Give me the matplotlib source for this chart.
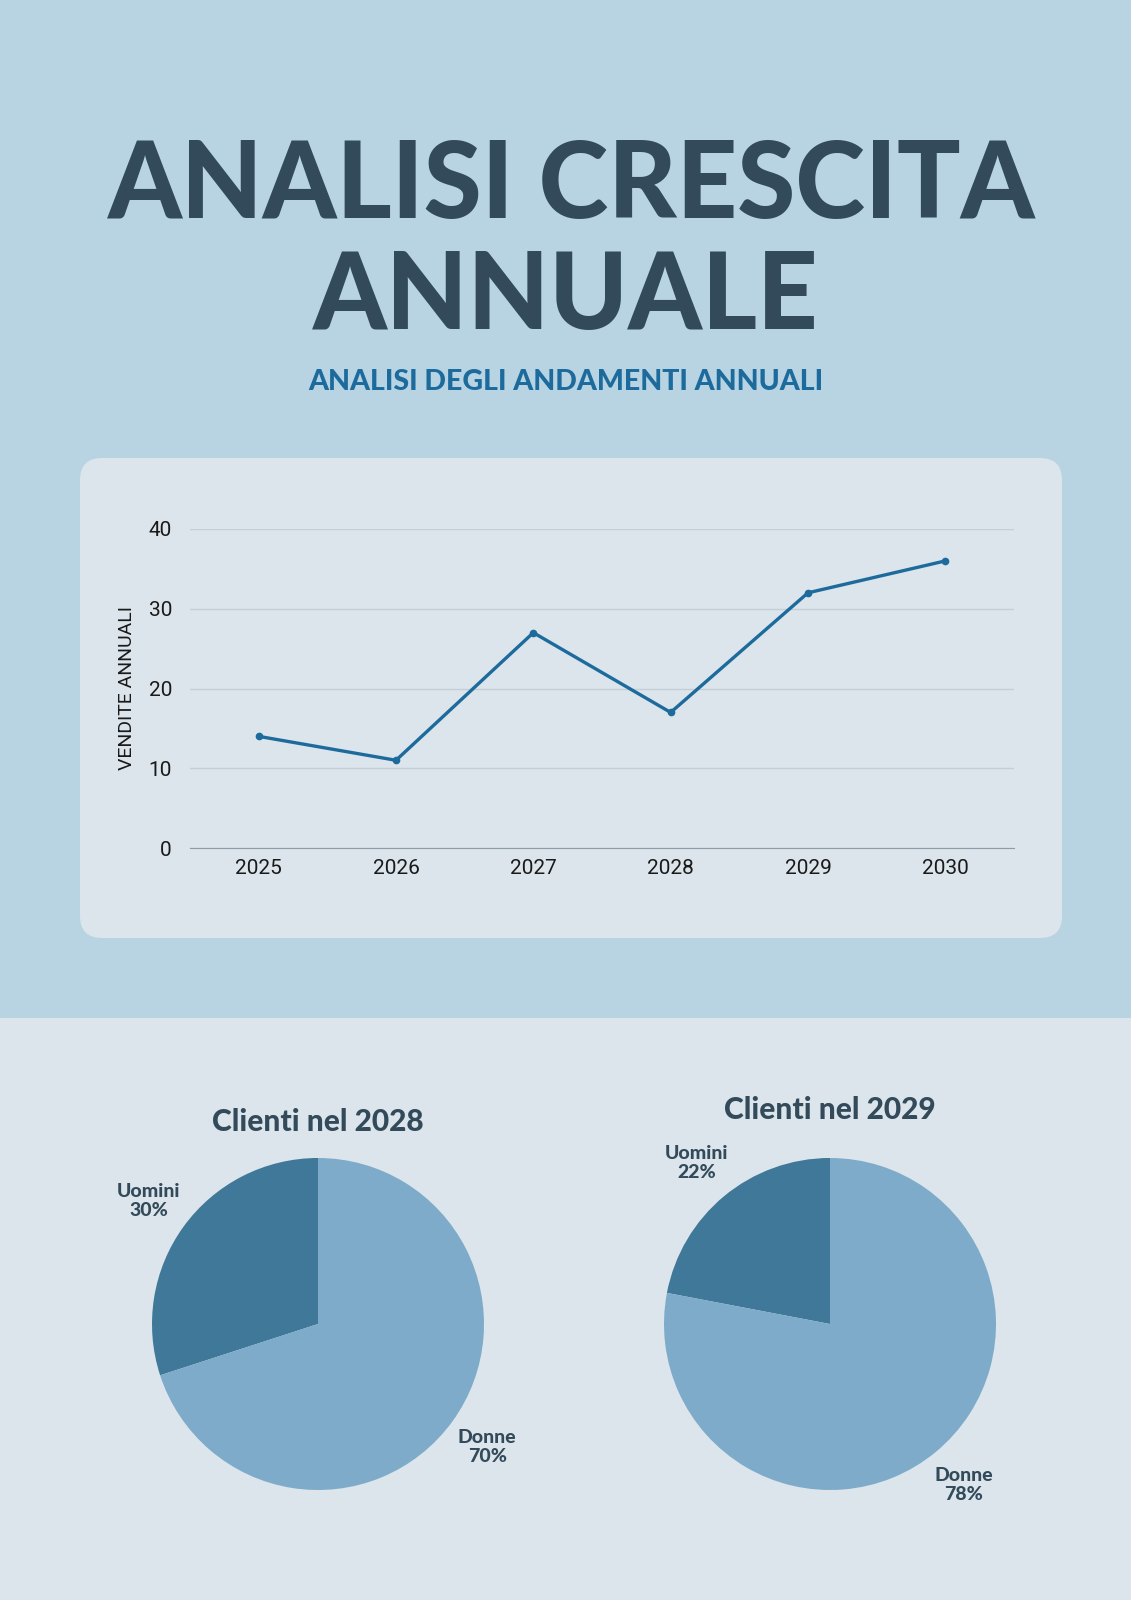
import matplotlib.pyplot as plt
from matplotlib.patches import FancyBboxPatch, Rectangle

# data
years = ["2025", "2026", "2027", "2028", "2029", "2030"]
sales = [14, 11, 27, 17, 32, 36]

pie_labels = ["Uomini", "Donne"]
clients_2028 = [30, 70]
clients_2029 = [22, 78]

BG_TOP = "#b8d4e2"
BG_LOW = "#dbe5eb"
DARK = "#324a5a"
BLUE = "#1d6a9d"
PIE_COLORS = ["#3f7898", "#7eabc9"]
TXT = "#1a1a1a"

W, H = 1131, 1600
fig = plt.figure(figsize=(W / 100, H / 100), dpi=100)
fig.patch.set_facecolor(BG_TOP)

# background layer in pixel coordinates
bg = fig.add_axes([0, 0, 1, 1])
bg.set_xlim(0, W)
bg.set_ylim(H, 0)
bg.axis("off")
bg.add_patch(Rectangle((0, 1018), W, H - 1018, color=BG_LOW, lw=0))
bg.add_patch(FancyBboxPatch((80, 458), 982, 480,
                            boxstyle="round,pad=0,rounding_size=22",
                            fc=BG_LOW, ec="none"))

bg.text(W / 2 + 6, 218, "ANALISI CRESCITA", ha="center", va="baseline",
        fontsize=76, fontweight="black", family="Lato", color=DARK)
bg.text(W / 2, 329, "ANNUALE", ha="center", va="baseline",
        fontsize=76, fontweight="black", family="Lato", color=DARK)
bg.text(W / 2, 390, "ANALISI DEGLI ANDAMENTI ANNUALI", ha="center", va="baseline",
        fontsize=20.5, fontweight="black", family="Lato", color=BLUE)


def px_rect(left, top, right, bottom):
    return [left / W, 1 - bottom / H, (right - left) / W, (bottom - top) / H]


# line chart
ax = fig.add_axes(px_rect(190, 529, 1014, 848))
ax.set_facecolor("none")
x = range(len(years))
ax.plot(x, sales, color=BLUE, lw=2.4, marker="o", ms=4.5)
ax.set_xlim(-0.5, len(years) - 0.5)
ax.set_ylim(0, 40)
ax.set_yticks([0, 10, 20, 30, 40])
ax.set_xticks(list(x))
ax.set_xticklabels(years)
ax.grid(axis="y", color="#c3ced6", lw=1)
ax.set_axisbelow(True)
for s in ["top", "right", "left"]:
    ax.spines[s].set_visible(False)
ax.spines["bottom"].set_color("#8f9ca6")
ax.tick_params(length=0, labelsize=15, labelcolor=TXT, pad=8)
ax.tick_params(axis="y", pad=13)
for lab in ax.get_xticklabels() + ax.get_yticklabels():
    lab.set_family("Roboto")
    lab.set_fontweight("normal")
ax.set_ylabel("VENDITE ANNUALI", fontsize=14, family="Roboto", fontweight="normal",
              color=TXT, labelpad=9)


# pies
def draw_pie(cx, cy, r, values, title, title_y):
    s = 1.6
    pax = fig.add_axes(px_rect(cx - r * s, cy - r * s, cx + r * s, cy + r * s))
    labels = [f"{n}\n{v}%" for n, v in zip(pie_labels, values)]
    _, texts = pax.pie(values, labels=labels, colors=PIE_COLORS, startangle=90,
                       counterclock=True, labeldistance=1.26,
                       wedgeprops=dict(lw=0),
                       textprops=dict(fontsize=14, fontweight="black",
                                      family="Lato", color=DARK,
                                      linespacing=1.15))
    for t in texts:
        t.set_ha("center")
        t.set_va("center")
    pax.set_xlim(-s, s)
    pax.set_ylim(-s, s)
    pax.set_aspect("equal")
    bg.text(cx, title_y, title, ha="center", va="center", fontsize=21.5,
            fontweight="black", family="Lato", color=DARK)


draw_pie(318, 1324, 166, clients_2028, "Clienti nel 2028", 1122)
draw_pie(830, 1324, 166, clients_2029, "Clienti nel 2029", 1110)

fig.savefig("out.png", dpi=100, facecolor=fig.get_facecolor())
